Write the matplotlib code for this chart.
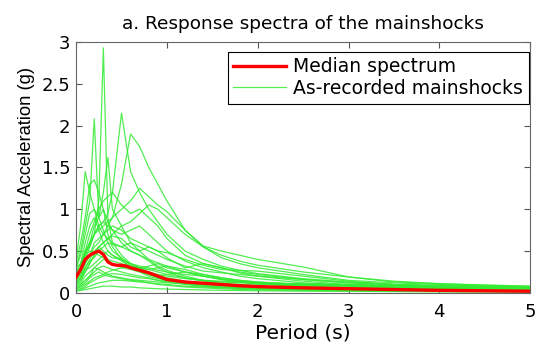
import matplotlib
matplotlib.use("Agg")
import matplotlib.pyplot as plt

plt.rcParams['font.family'] = ['DejaVu Sans']

# --- data ---
PERIODS = [0, 0.05, 0.1, 0.15, 0.2, 0.25, 0.3, 0.35, 0.4, 0.5, 0.6, 0.7, 0.8,
           0.9, 1.0, 1.2, 1.4, 1.6, 1.8, 2.0, 2.5, 3.0, 3.5, 4.0, 4.5, 5.0]

rec01 = [0.25, 0.35, 0.5, 0.55, 0.7, 1.1, 2.93, 0.9, 0.6, 0.45, 0.35, 0.3, 0.25, 0.2, 0.18, 0.14, 0.11, 0.09, 0.07, 0.06, 0.045, 0.035, 0.03, 0.025, 0.02, 0.02]
rec02 = [0.3, 0.5, 0.8, 1.1, 2.08, 0.9, 1.0, 0.7, 0.55, 0.4, 0.3, 0.25, 0.2, 0.17, 0.15, 0.11, 0.09, 0.07, 0.06, 0.05, 0.04, 0.03, 0.025, 0.02, 0.018, 0.015]
rec03 = [0.2, 0.3, 0.45, 0.6, 0.7, 0.8, 0.85, 0.95, 1.2, 2.15, 1.45, 1.2, 1.0, 0.85, 0.7, 0.5, 0.4, 0.32, 0.27, 0.23, 0.17, 0.13, 0.1, 0.08, 0.07, 0.06]
rec04 = [0.15, 0.25, 0.35, 0.45, 0.55, 0.6, 0.7, 0.8, 0.9, 1.3, 1.9, 1.75, 1.5, 1.3, 1.1, 0.75, 0.55, 0.45, 0.38, 0.33, 0.25, 0.19, 0.14, 0.11, 0.09, 0.08]
rec05 = [0.3, 0.35, 0.5, 0.6, 0.7, 0.75, 0.8, 0.85, 0.9, 1.0, 1.1, 1.25, 1.15, 1.05, 0.97, 0.75, 0.56, 0.5, 0.45, 0.4, 0.31, 0.19, 0.13, 0.11, 0.095, 0.08]
rec06 = [0.4, 0.8, 1.45, 1.2, 1.0, 0.9, 0.75, 0.6, 0.5, 0.42, 0.33, 0.28, 0.22, 0.18, 0.15, 0.11, 0.08, 0.07, 0.06, 0.05, 0.04, 0.03, 0.025, 0.02, 0.02, 0.015]
rec07 = [0.25, 0.3, 0.45, 0.6, 0.8, 0.9, 1.2, 1.62, 1.0, 0.8, 0.6, 0.5, 0.4, 0.32, 0.27, 0.2, 0.15, 0.12, 0.1, 0.08, 0.06, 0.045, 0.035, 0.03, 0.025, 0.02]
rec08 = [0.35, 0.6, 0.9, 1.3, 1.35, 1.2, 1.0, 0.85, 0.75, 0.6, 0.5, 0.45, 0.38, 0.3, 0.25, 0.18, 0.14, 0.11, 0.09, 0.075, 0.055, 0.04, 0.035, 0.03, 0.025, 0.02]
rec09 = [0.2, 0.3, 0.5, 0.7, 0.85, 1.0, 1.1, 1.15, 1.2, 1.05, 0.95, 1.0, 0.9, 0.8, 0.65, 0.45, 0.35, 0.3, 0.25, 0.22, 0.16, 0.12, 0.1, 0.08, 0.07, 0.06]
rec10 = [0.1, 0.15, 0.25, 0.35, 0.45, 0.55, 0.6, 0.65, 0.7, 0.8, 0.85, 0.95, 1.05, 1.0, 0.9, 0.7, 0.55, 0.42, 0.35, 0.3, 0.22, 0.15, 0.12, 0.1, 0.08, 0.07]
rec11 = [0.15, 0.25, 0.4, 0.55, 0.7, 0.8, 0.85, 0.8, 0.75, 0.7, 0.75, 0.8, 0.7, 0.6, 0.5, 0.38, 0.3, 0.25, 0.2, 0.17, 0.12, 0.09, 0.07, 0.06, 0.05, 0.045]
rec12 = [0.3, 0.45, 0.7, 0.95, 1.0, 0.8, 0.7, 0.65, 0.6, 0.55, 0.5, 0.45, 0.4, 0.36, 0.32, 0.25, 0.2, 0.16, 0.13, 0.11, 0.08, 0.06, 0.05, 0.04, 0.035, 0.03]
rec13 = [0.1, 0.15, 0.25, 0.35, 0.45, 0.55, 0.6, 0.65, 0.68, 0.65, 0.55, 0.5, 0.55, 0.5, 0.42, 0.3, 0.35, 0.3, 0.24, 0.2, 0.14, 0.1, 0.08, 0.07, 0.06, 0.05]
rec14 = [0.05, 0.07, 0.1, 0.14, 0.18, 0.2, 0.22, 0.25, 0.27, 0.3, 0.32, 0.3, 0.28, 0.25, 0.22, 0.18, 0.15, 0.13, 0.12, 0.11, 0.1, 0.1, 0.09, 0.08, 0.07, 0.06]
rec15 = [0.08, 0.1, 0.15, 0.2, 0.25, 0.3, 0.32, 0.3, 0.28, 0.25, 0.22, 0.2, 0.18, 0.15, 0.13, 0.1, 0.08, 0.07, 0.06, 0.05, 0.04, 0.03, 0.025, 0.02, 0.018, 0.015]
rec16 = [0.2, 0.3, 0.45, 0.5, 0.48, 0.45, 0.42, 0.4, 0.38, 0.35, 0.3, 0.27, 0.25, 0.22, 0.2, 0.17, 0.15, 0.14, 0.13, 0.12, 0.11, 0.1, 0.085, 0.075, 0.065, 0.06]
rec17 = [0.12, 0.18, 0.3, 0.4, 0.5, 0.55, 0.5, 0.45, 0.42, 0.4, 0.35, 0.32, 0.3, 0.27, 0.25, 0.22, 0.2, 0.17, 0.14, 0.12, 0.08, 0.06, 0.05, 0.04, 0.035, 0.03]
rec18 = [0.03, 0.04, 0.06, 0.08, 0.1, 0.12, 0.13, 0.14, 0.15, 0.15, 0.14, 0.13, 0.12, 0.11, 0.1, 0.08, 0.07, 0.06, 0.05, 0.045, 0.035, 0.03, 0.025, 0.02, 0.018, 0.015]
rec19 = [0.05, 0.08, 0.12, 0.18, 0.22, 0.25, 0.22, 0.2, 0.19, 0.17, 0.15, 0.14, 0.12, 0.1, 0.09, 0.07, 0.06, 0.05, 0.04, 0.035, 0.03, 0.025, 0.02, 0.016, 0.014, 0.012]
rec20 = [0.15, 0.2, 0.3, 0.38, 0.42, 0.5, 0.55, 0.6, 0.58, 0.55, 0.6, 0.55, 0.5, 0.45, 0.4, 0.32, 0.26, 0.24, 0.22, 0.2, 0.16, 0.12, 0.1, 0.09, 0.08, 0.07]
rec21 = [0.07, 0.1, 0.15, 0.2, 0.3, 0.35, 0.4, 0.38, 0.35, 0.3, 0.28, 0.25, 0.22, 0.2, 0.22, 0.25, 0.22, 0.18, 0.15, 0.13, 0.1, 0.08, 0.06, 0.05, 0.045, 0.04]
rec22 = [0.1, 0.12, 0.2, 0.25, 0.3, 0.28, 0.25, 0.22, 0.2, 0.18, 0.16, 0.15, 0.14, 0.13, 0.12, 0.11, 0.1, 0.09, 0.08, 0.075, 0.07, 0.065, 0.06, 0.055, 0.05, 0.05]
rec23 = [0.02, 0.03, 0.04, 0.05, 0.06, 0.07, 0.08, 0.08, 0.08, 0.07, 0.07, 0.06, 0.055, 0.05, 0.045, 0.04, 0.035, 0.03, 0.028, 0.025, 0.02, 0.018, 0.015, 0.012, 0.011, 0.01]
rec24 = [0.25, 0.35, 0.6, 0.8, 0.9, 0.75, 0.6, 0.5, 0.45, 0.38, 0.32, 0.3, 0.28, 0.3, 0.32, 0.28, 0.22, 0.18, 0.15, 0.13, 0.1, 0.08, 0.07, 0.06, 0.05, 0.045]
rec25 = [0.18, 0.22, 0.35, 0.45, 0.6, 0.65, 0.7, 0.75, 0.8, 0.75, 0.65, 0.6, 0.55, 0.5, 0.48, 0.4, 0.33, 0.28, 0.27, 0.26, 0.2, 0.14, 0.1, 0.08, 0.07, 0.06]
rec26 = [0.04, 0.05, 0.08, 0.12, 0.15, 0.18, 0.2, 0.22, 0.23, 0.22, 0.2, 0.18, 0.17, 0.15, 0.14, 0.12, 0.11, 0.1, 0.1, 0.095, 0.09, 0.08, 0.07, 0.065, 0.06, 0.055]
rec27 = [0.12, 0.18, 0.28, 0.3, 0.35, 0.4, 0.45, 0.5, 0.45, 0.4, 0.35, 0.3, 0.32, 0.35, 0.3, 0.25, 0.2, 0.16, 0.13, 0.11, 0.08, 0.06, 0.05, 0.04, 0.035, 0.03]

RECORDS = [rec01, rec02, rec03, rec04, rec05, rec06, rec07, rec08, rec09,
           rec10, rec11, rec12, rec13, rec14, rec15, rec16, rec17, rec18,
           rec19, rec20, rec21, rec22, rec23, rec24, rec25, rec26, rec27]

MEDIAN_T = [0, 0.05, 0.1, 0.15, 0.2, 0.25, 0.3, 0.35, 0.4, 0.45, 0.5, 0.55, 0.6,
            0.7, 0.8, 0.9, 1.0, 1.2, 1.4, 1.6, 1.8, 2.0, 2.5, 3.0, 3.5, 4.0, 4.5, 5.0]
MEDIAN_SA = [0.19, 0.28, 0.4, 0.45, 0.48, 0.5, 0.46, 0.37, 0.34, 0.33, 0.33, 0.32, 0.3,
             0.27, 0.24, 0.2, 0.16, 0.13, 0.115, 0.1, 0.085, 0.075, 0.06, 0.05, 0.04,
             0.03, 0.025, 0.02]
# -----------------------------------

fig = plt.figure(figsize=(5.36, 3.47), dpi=100)
ax = fig.add_axes([0.142, 0.156, 0.847, 0.723])

for i, rec in enumerate(RECORDS):
    ax.plot(PERIODS, rec, color=(0.2, 0.92, 0.2), lw=0.9, alpha=0.85,
            label='As-recorded mainshocks' if i == 0 else None, zorder=2)
ax.plot(MEDIAN_T, MEDIAN_SA, color='red', lw=2.4, label='Median spectrum', zorder=3)

ax.set_xlim(0, 5)
ax.set_ylim(0, 3)
ax.set_xticks([0, 1, 2, 3, 4, 5])
ax.set_yticks([0, 0.5, 1, 1.5, 2, 2.5, 3])
ax.set_yticklabels(['0', '0.5', '1', '1.5', '2', '2.5', '3'])
ax.tick_params(direction='in', top=True, right=True, labelsize=13, length=4,
               color='#555555')
ax.tick_params(axis='x', pad=7)
ax.tick_params(axis='y', pad=4)
for s in ax.spines.values():
    s.set_color('#666666')
    s.set_linewidth(0.8)

ax.set_xlabel('Period (s)', fontsize=14.5, labelpad=2)
ax.set_ylabel('Spectral Acceleration (g)', fontsize=13.2, labelpad=5,
              family='Liberation Sans')
ax.set_title('a. Response spectra of the mainshocks', fontsize=13.3, pad=9)

handles, labels = ax.get_legend_handles_labels()
order = [labels.index('Median spectrum'), labels.index('As-recorded mainshocks')]
leg = ax.legend([handles[k] for k in order], [labels[k] for k in order],
                loc='upper right', bbox_to_anchor=(0.997, 0.962), borderaxespad=0,
                fontsize=13.5, fancybox=False, framealpha=1,
                edgecolor='black', handlelength=2.8, borderpad=0.3,
                labelspacing=0.15, handletextpad=0.4)
leg.get_frame().set_linewidth(0.8)

fig.savefig('out.png', dpi=100)
